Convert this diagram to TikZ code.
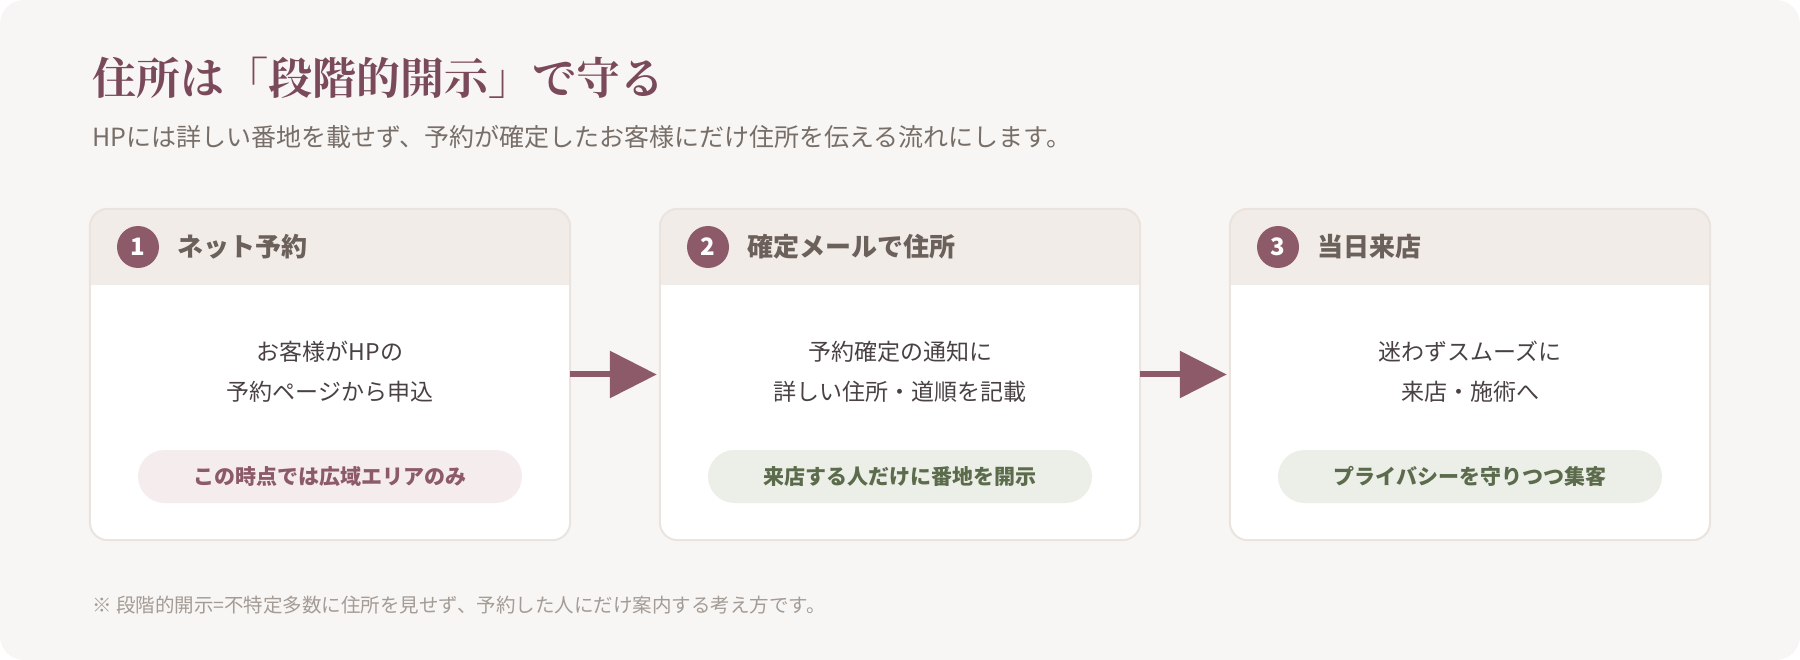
\documentclass[tikz,border=0pt]{standalone}
\usepackage{fontspec}
\usepackage{xcolor}
\usetikzlibrary{arrows.meta, positioning, calc}
\setmainfont{Noto Sans CJK JP}
\newfontfamily\jpserif{Noto Serif CJK JP}
\definecolor{pagebg}{HTML}{F8F6F4}
\definecolor{cardline}{HTML}{EAE3DE}
\definecolor{headbg}{HTML}{F1ECE8}
\definecolor{plum}{HTML}{8C5A68}
\definecolor{titleplum}{HTML}{7A4A5A}
\definecolor{subgrey}{HTML}{786E68}
\definecolor{headtext}{HTML}{6B605A}
\definecolor{bodyink}{HTML}{4A4242}
\definecolor{notegrey}{HTML}{A39B95}
\definecolor{pillrose}{HTML}{F5ECEE}
\definecolor{pillsage}{HTML}{ECEFE7}
\definecolor{sagetext}{HTML}{5C6B4C}

\begin{document}
\begin{tikzpicture}[x=1pt, y=-1pt,
    card/.style={fill=white, rounded corners=18pt, minimum width=480pt, minimum height=331pt, inner sep=0pt,
      path picture={\fill[headbg, sharp corners] (path picture bounding box.north west) rectangle ([yshift=-76pt]path picture bounding box.north east);}},
    numdot/.style={circle, fill=plum, text=white, minimum size=42pt, inner sep=0pt, font=\fontsize{24}{24}\selectfont\bfseries},
    headlabel/.style={inner sep=0pt, text=headtext, font=\fontsize{26}{26}\selectfont\bfseries},
    bodylines/.style={align=center, inner sep=0pt, text=bodyink, font=\fontsize{23}{40}\selectfont},
    pill/.style={rounded corners=26.5pt, minimum width=384pt, minimum height=53pt, inner sep=0pt, font=\fontsize{21}{21}\selectfont\bfseries},
    rosepill/.style={pill, fill=pillrose, text=plum},
    sagepill/.style={pill, fill=pillsage, text=sagetext},
    flowarrow/.style={draw=plum, line width=6pt, shorten >=3pt, -{Triangle[length=47pt, width=46pt]}}]
  \useasboundingbox (0,0) rectangle (1800,660);
  \fill[white] (0,0) rectangle (1800,660);
  \fill[pagebg, rounded corners=24pt] (0,0) rectangle (1800,660);

  % heading
  \node[anchor=west, inner sep=0pt, text=titleplum, font=\jpserif\bfseries\fontsize{44}{44}\selectfont] (title) at (92,78) {住所は「段階的開示」で守る};
  \node[anchor=west, inner sep=0pt, text=subgrey, font=\fontsize{25}{25}\selectfont] (subtitle) at (92,137) {HPには詳しい番地を載せず、予約が確定したお客様にだけ住所を伝える流れにします。};

  % step 1
  \node[card] (card1) at (330,374.5) {};
  \draw[cardline, line width=2pt, rounded corners=18pt] (card1.south west) rectangle (card1.north east);
  \node[numdot] (num1) at (138,247) {1};
  \node[headlabel, right=18pt of num1] (head1) {ネット予約};
  \node[bodylines] (body1) at (330,372) {お客様がHPの\\予約ページから申込};
  \node[rosepill] (pill1) at (330,476.5) {この時点では広域エリアのみ};

  % step 2
  \node[card] (card2) at (900,374.5) {};
  \draw[cardline, line width=2pt, rounded corners=18pt] (card2.south west) rectangle (card2.north east);
  \node[numdot] (num2) at (708,247) {2};
  \node[headlabel, right=18pt of num2] (head2) {確定メールで住所};
  \node[bodylines] (body2) at (900,372) {予約確定の通知に\\詳しい住所・道順を記載};
  \node[sagepill] (pill2) at (900,476.5) {来店する人だけに番地を開示};

  % step 3
  \node[card] (card3) at (1470,374.5) {};
  \draw[cardline, line width=2pt, rounded corners=18pt] (card3.south west) rectangle (card3.north east);
  \node[numdot] (num3) at (1278,247) {3};
  \node[headlabel, right=18pt of num3] (head3) {当日来店};
  \node[bodylines] (body3) at (1470,372) {迷わずスムーズに\\来店・施術へ};
  \node[sagepill] (pill3) at (1470,476.5) {プライバシーを守りつつ集客};

  \draw[flowarrow] (card1.east) -- (card2.west);
  \draw[flowarrow] (card2.east) -- (card3.west);

  % note
  \node[anchor=west, inner sep=0pt, text=notegrey, font=\fontsize{19.5}{19.5}\selectfont] (note) at (92,605) {※ 段階的開示=不特定多数に住所を見せず、予約した人にだけ案内する考え方です。};
\end{tikzpicture}
\end{document}
